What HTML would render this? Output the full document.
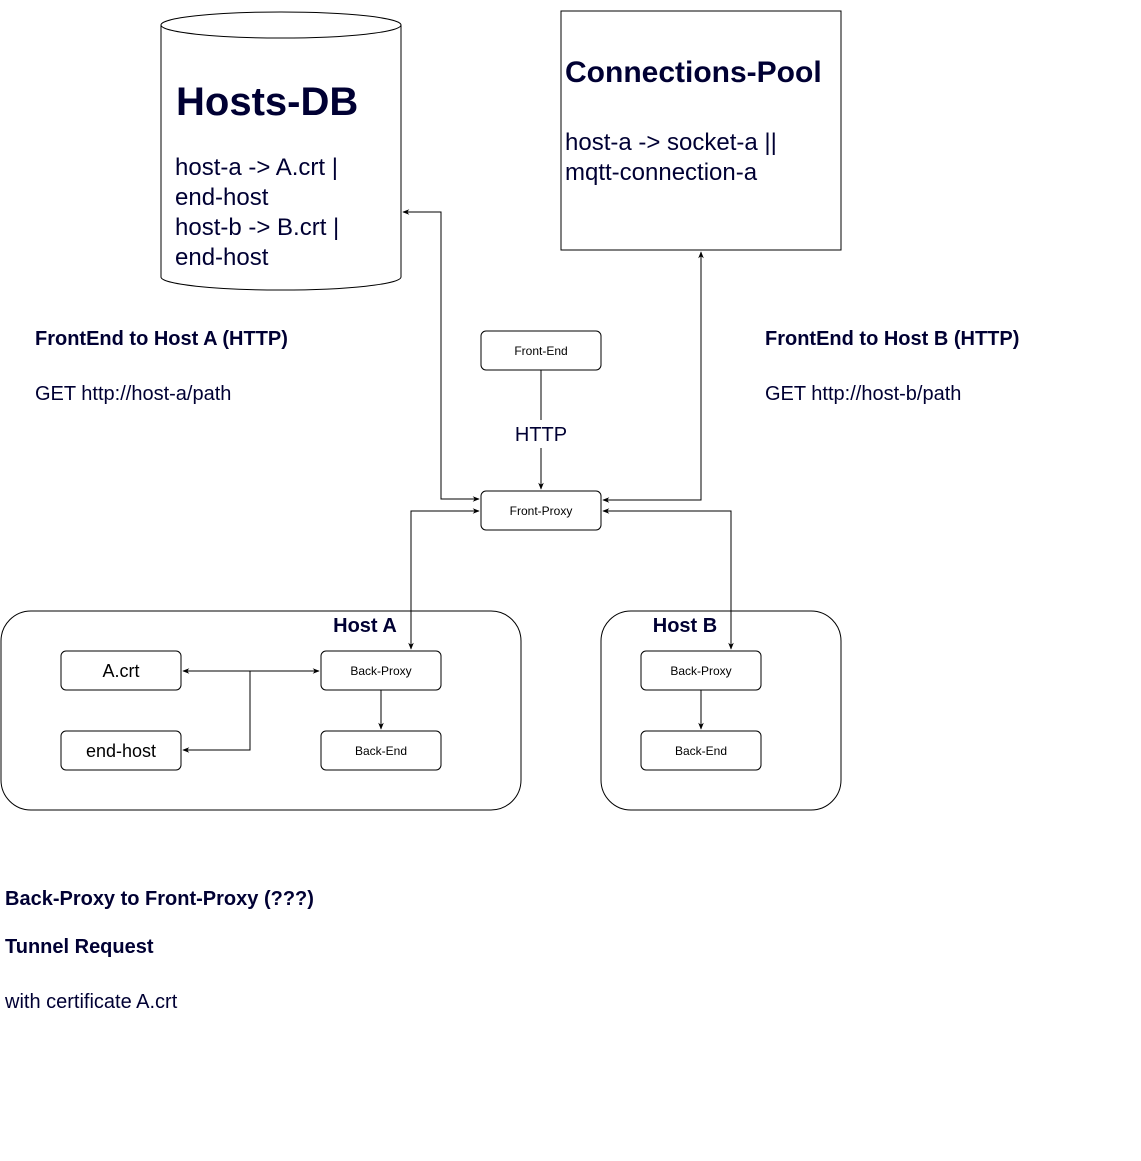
<!DOCTYPE html>
<html><head><meta charset="utf-8"><style>
html,body{margin:0;padding:0;background:#fff;}
svg{display:block;font-family:"Liberation Sans",Arial,sans-serif;}
</style></head><body>
<svg width="1141" height="1161" viewBox="0 0 1141 1161" xmlns="http://www.w3.org/2000/svg">
<defs>
<marker id="a" viewBox="0 0 10 10" refX="9" refY="5" markerWidth="7" markerHeight="7" orient="auto-start-reverse">
<path d="M0,1 L10,5 L0,9 L3,5 Z" fill="#000"/></marker>
</defs>
<g fill="#fff" stroke="#000" stroke-width="1">
<path d="M161,25 L161,277 A120,13 0 0 0 401,277 L401,25"/>
<ellipse cx="281" cy="25" rx="120" ry="13"/>
<rect x="561" y="11" width="280" height="239"/>
<rect x="481" y="331" width="120" height="39" rx="5"/>
<rect x="481" y="491" width="120" height="39" rx="5"/>
<rect x="1" y="611" width="520" height="199" rx="30"/>
<rect x="601" y="611" width="240" height="199" rx="30"/>
<rect x="61" y="651" width="120" height="39" rx="5"/>
<rect x="61" y="731" width="120" height="39" rx="5"/>
<rect x="321" y="651" width="120" height="39" rx="5"/>
<rect x="321" y="731" width="120" height="39" rx="5"/>
<rect x="641" y="651" width="120" height="39" rx="5"/>
<rect x="641" y="731" width="120" height="39" rx="5"/>
</g>
<g fill="none" stroke="#000" stroke-width="1">
<path d="M403,212 H441 V499 H479" marker-start="url(#a)" marker-end="url(#a)"/>
<path d="M701,252 V500 H603" marker-start="url(#a)" marker-end="url(#a)"/>
<path d="M479,511 H411 V649" marker-start="url(#a)" marker-end="url(#a)"/>
<path d="M603,511 H731 V649" marker-start="url(#a)" marker-end="url(#a)"/>
<path d="M183,671 H319" marker-start="url(#a)" marker-end="url(#a)"/>
<path d="M250,671 V750 H183" marker-end="url(#a)"/>
<path d="M381,690 V729" marker-end="url(#a)"/>
<path d="M701,690 V729" marker-end="url(#a)"/>
<path d="M541,370 V420 M541,448 V489" marker-end="url(#a)"/>
</g>
<g fill="#000033">
<text x="176" y="115" font-size="40" font-weight="bold">Hosts-DB</text>
<text x="175" y="175" font-size="24">host-a -&gt; A.crt |</text>
<text x="175" y="205" font-size="24">end-host</text>
<text x="175" y="235" font-size="24">host-b -&gt; B.crt |</text>
<text x="175" y="265" font-size="24">end-host</text>
<text x="565" y="82" font-size="30" font-weight="bold">Connections-Pool</text>
<text x="565" y="150" font-size="24">host-a -&gt; socket-a ||</text>
<text x="565" y="180" font-size="24">mqtt-connection-a</text>
<text x="35" y="345" font-size="20" font-weight="bold">FrontEnd to Host A (HTTP)</text>
<text x="35" y="400" font-size="20">GET http://host-a/path</text>
<text x="765" y="345" font-size="20" font-weight="bold">FrontEnd to Host B (HTTP)</text>
<text x="765" y="400" font-size="20">GET http://host-b/path</text>
<text x="541" y="441" font-size="20" text-anchor="middle">HTTP</text>
<text x="5" y="905" font-size="20" font-weight="bold">Back-Proxy to Front-Proxy (???)</text>
<text x="5" y="953" font-size="20" font-weight="bold">Tunnel Request</text>
<text x="5" y="1008" font-size="20">with certificate A.crt</text>
<text x="365" y="632" font-size="20" font-weight="bold" text-anchor="middle">Host A</text>
<text x="685" y="632" font-size="20" font-weight="bold" text-anchor="middle">Host B</text>
</g>
<g fill="#000" font-size="12" text-anchor="middle">
<text x="541" y="355">Front-End</text>
<text x="541" y="515">Front-Proxy</text>
<text x="381" y="675">Back-Proxy</text>
<text x="381" y="755">Back-End</text>
<text x="701" y="675">Back-Proxy</text>
<text x="701" y="755">Back-End</text>
<text x="121" y="677" font-size="18">A.crt</text>
<text x="121" y="757" font-size="18">end-host</text>
</g>
</svg>
</body></html>
